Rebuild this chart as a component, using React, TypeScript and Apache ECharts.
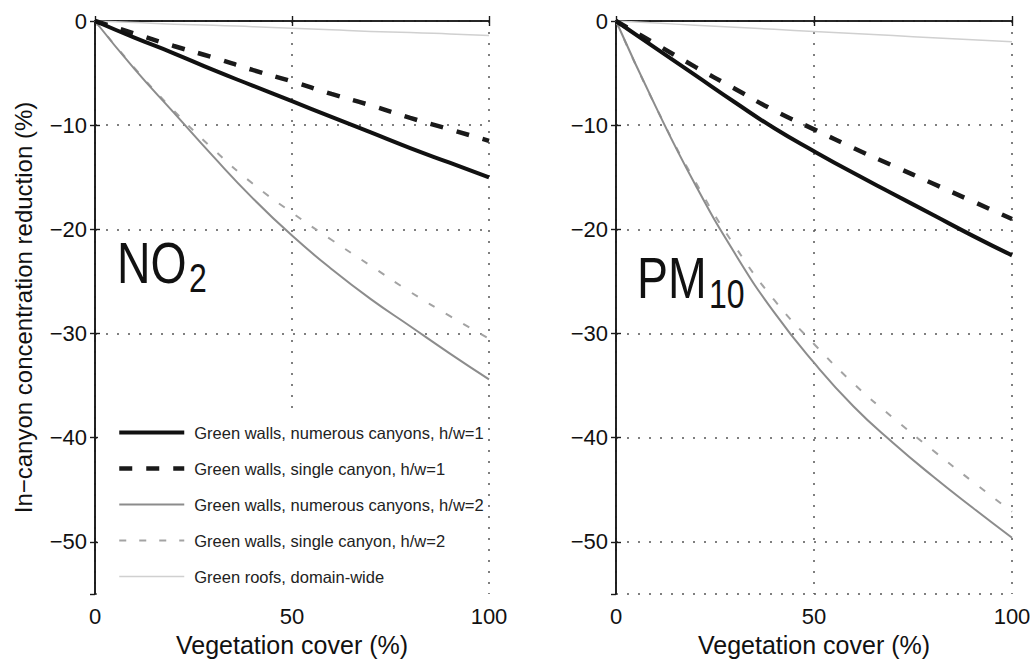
import React, { useEffect, useRef } from "react";
import * as echarts from "echarts";

// Vegetation cover (%) sampled along both panels
const cover = [0, 10, 20, 30, 40, 50, 60, 70, 80, 90, 100];

const seriesNames = [
  "Green walls, numerous canyons, h/w=1",
  "Green walls, single canyon, h/w=1",
  "Green walls, numerous canyons, h/w=2",
  "Green walls, single canyon, h/w=2",
  "Green roofs, domain-wide",
];

// NO2 in-canyon concentration reduction (%)
const no2NumerousHw1 = [0, -1.6, -3.1, -4.7, -6.2, -7.7, -9.2, -10.7, -12.2, -13.6, -15.0];
const no2SingleHw1 = [0, -1.2, -2.4, -3.5, -4.7, -5.8, -7.0, -8.1, -9.3, -10.4, -11.5];
const no2NumerousHw2 = [0, -4.6, -8.8, -13.0, -17.0, -20.6, -23.8, -26.7, -29.3, -31.9, -34.4];
const no2SingleHw2 = [0, -4.5, -8.6, -12.3, -15.6, -18.4, -21.0, -23.5, -26.0, -28.3, -30.5];
const no2Roofs = [0, -0.15, -0.3, -0.4, -0.55, -0.7, -0.85, -1.0, -1.1, -1.25, -1.4];

// PM10 in-canyon concentration reduction (%)
const pmNumerousHw1 = [0, -2.6, -5.2, -7.8, -10.3, -12.5, -14.6, -16.6, -18.6, -20.6, -22.5];
const pmSingleHw1 = [0, -2.2, -4.4, -6.5, -8.6, -10.4, -12.2, -13.9, -15.6, -17.3, -19.0];
const pmNumerousHw2 = [0, -8.2, -15.7, -22.3, -28.0, -32.8, -37.0, -40.5, -43.7, -46.7, -49.6];
const pmSingleHw2 = [0, -8.2, -15.4, -21.6, -26.8, -31.0, -34.8, -38.1, -41.2, -44.2, -47.1];
const pmRoofs = [0, -0.2, -0.4, -0.6, -0.8, -1.0, -1.2, -1.4, -1.6, -1.8, -2.0];

const xTicks = { min: 0, max: 100, interval: 50 };
const yRange = { min: -55, max: 0 };

const FONT = "Liberation Sans, Arial, Helvetica, sans-serif";

const lineStyles = [
  { color: "#111111", width: 4, type: "solid" },
  { color: "#1a1a1a", width: 4.5, type: [13, 14] },
  { color: "#8c8c8c", width: 2, type: "solid" },
  { color: "#a3a3a3", width: 2, type: [7, 13] },
  { color: "#d0d0d0", width: 1.5, type: "solid" },
];

const pair = (vals: number[]) => cover.map((x, i) => [x, vals[i]]);

const minus = (v: number) => (v < 0 ? "\u2212" + Math.abs(v) : String(v));

// Condensed panel label (species name with subscript)
const panelText = (text: string, x: number, y: number, size: number) => ({
  type: "text",
  x,
  y,
  scaleX: 0.8,
  style: { text, fontSize: size, fill: "#111", fontFamily: FONT },
});

export default function App() {
  const ref = useRef<HTMLDivElement>(null);

  useEffect(() => {
    document.body.style.margin = "0";
    if (!ref.current) return;
    const chart = echarts.init(ref.current, undefined, { renderer: "svg" });

    const axisLine = { show: true, lineStyle: { color: "#1a1a1a", width: 1.6 } };
    const tickIn = { show: true, inside: true, length: 5, lineStyle: { color: "#1a1a1a", width: 1.4 } };
    const dotted = { show: true, lineStyle: { color: "#555", width: 1.5, type: [2, 9] } };

    const bottomX = (g: number) => ({
      type: "value",
      gridIndex: g,
      position: "bottom",
      ...xTicks,
      axisLine,
      axisTick: tickIn,
      splitLine: dotted,
      axisLabel: { fontSize: 22, color: "#111", fontFamily: FONT, margin: 11 },
      name: "Vegetation cover (%)",
      nameLocation: "middle",
      nameGap: 38,
      nameTextStyle: { fontSize: 25, color: "#111", fontFamily: FONT },
    });
    const topX = (g: number) => ({
      type: "value",
      gridIndex: g,
      position: "top",
      ...xTicks,
      axisLine,
      axisTick: tickIn,
      splitLine: { show: false },
      axisLabel: { show: false },
    });
    const leftY = (g: number, withName: boolean) => ({
      type: "value",
      gridIndex: g,
      position: "left",
      ...yRange,
      axisLine,
      axisTick: tickIn,
      splitLine: dotted,
      axisLabel: {
        fontSize: 22,
        color: "#111",
        fontFamily: FONT,
        margin: 8,
        showMinLabel: false,
        formatter: minus,
      },
      ...(withName
        ? {
            name: "In\u2212canyon concentration reduction (%)",
            nameLocation: "middle",
            nameGap: 60,
            nameTextStyle: { fontSize: 24, color: "#111", fontFamily: FONT },
          }
        : {}),
    });
    const rightY = (g: number) => ({
      type: "value",
      gridIndex: g,
      position: "right",
      ...yRange,
      axisLine,
      axisTick: tickIn,
      splitLine: { show: false },
      axisLabel: { show: false },
    });

    const makeSeries = (sets: number[][], xi: number, yi: number) =>
      sets.map((vals, i) => ({
        type: "line",
        name: seriesNames[i],
        xAxisIndex: xi,
        yAxisIndex: yi,
        data: pair(vals),
        smooth: true,
        symbol: "none",
        lineStyle: lineStyles[i],
        itemStyle: { color: lineStyles[i].color },
        z: 10 - i,
      }));

    chart.setOption({
      animation: false,
      backgroundColor: "#ffffff",
      grid: [
        { left: 95, top: 21, width: 394, height: 579 },
        { left: 616, top: 21, width: 396, height: 579 },
      ],
      xAxis: [bottomX(0), topX(0), bottomX(1), topX(1)],
      yAxis: [leftY(0, true), rightY(0), leftY(1, false), rightY(1)],
      legend: {
        orient: "vertical",
        left: 98,
        top: 414,
        padding: [10, 4, 17, 19],
        backgroundColor: "#ffffff",
        itemWidth: 65,
        itemHeight: 14,
        itemGap: 19,
        data: seriesNames,
        itemStyle: { opacity: 0, borderWidth: 0 },
        lineStyle: { width: "inherit" },
        textStyle: {
          fontSize: 16.5,
          lineHeight: 14,
          color: "#222",
          fontFamily: FONT,
          padding: [0, 0, 0, 5],
        },
        selectedMode: false,
        z: 20,
      },
      graphic: [
        panelText("NO", 117, 234, 58),
        panelText("2", 189, 258, 40),
        panelText("PM", 637, 249, 58),
        panelText("10", 709, 274, 40),
      ],
      series: [
        ...makeSeries([no2NumerousHw1, no2SingleHw1, no2NumerousHw2, no2SingleHw2, no2Roofs], 0, 0),
        ...makeSeries([pmNumerousHw1, pmSingleHw1, pmNumerousHw2, pmSingleHw2, pmRoofs], 2, 2),
      ],
    });

    return () => chart.dispose();
  }, []);

  return <div ref={ref} style={{ width: 1035, height: 662 }} />;
}
